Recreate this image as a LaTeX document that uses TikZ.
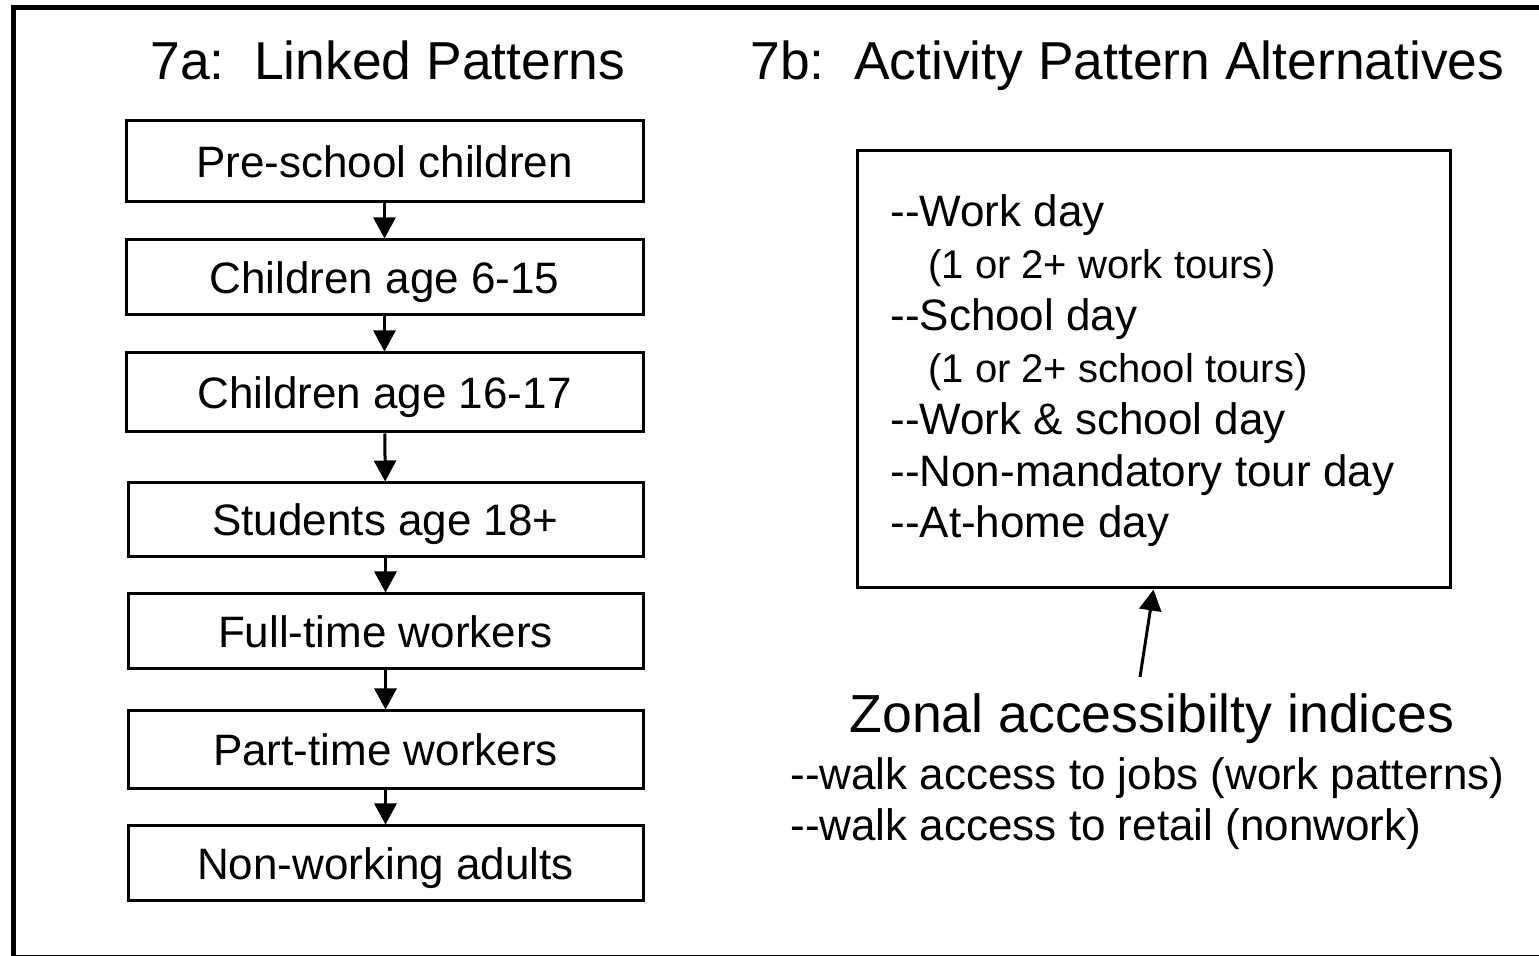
\documentclass[tikz,border=0pt]{standalone}
\usepackage{fontspec}
\setmainfont{Liberation Sans}
\usetikzlibrary{arrows.meta}
\begin{document}
\begin{tikzpicture}[x=0.5pt,y=-0.5pt,
  stagebox/.style={draw,line width=1.5pt,inner sep=0pt,font=\fontsize{22}{26}\selectfont,text height=15.75pt,text depth=0pt},
  flowarr/.style={line width=1.5pt,-{Triangle[length=10.5pt,width=11pt]}},
  title/.style={inner sep=0pt,anchor=base west,font=\fontsize{26.7}{30}\selectfont},
  item/.style={inner sep=0pt,anchor=base west,font=\fontsize{22}{26}\selectfont},
  subitem/.style={inner sep=0pt,anchor=base west,font=\fontsize{20}{24}\selectfont}]
\useasboundingbox (0,0) rectangle (1539,956);
\fill[white] (0,0) rectangle (1539,956);
\draw[line width=2.5pt] (13,7.5) rectangle (1545,958);
% titles
\node[title] (ta) at (150,80) {7a:\ \ Linked Patterns};
\node[title] (tb) at (750,80) {7b:\ \ Activity Pattern Alternatives};
% left boxes
\node[stagebox,minimum width=258.5pt,minimum height=40.5pt] (b1) at (384.5,161.5) {Pre-school children};
\node[stagebox,minimum width=258.5pt,minimum height=37.5pt] (b2) at (384.5,277.5) {Children age 6-15};
\node[stagebox,minimum width=258.5pt,minimum height=39.5pt] (b3) at (384.5,392.5) {Children age 16-17};
\node[stagebox,minimum width=257.5pt,minimum height=37pt] (b4) at (385.5,520) {Students age 18+};
\node[stagebox,minimum width=257.5pt,minimum height=37.5pt] (b5) at (385.5,631.5) {Full-time workers};
\node[stagebox,minimum width=257.5pt,minimum height=39pt] (b6) at (385.5,750) {Part-time workers};
\node[stagebox,minimum width=257.5pt,minimum height=37.5pt] (b7) at (385.5,863.5) {Non-working adults};
\draw[flowarr] (b1) -- (b2);
\draw[flowarr] (b2) -- (b3);
\draw[flowarr] (b3) -- (b4);
\draw[flowarr] (b4) -- (b5);
\draw[flowarr] (b5) -- (b6);
\draw[flowarr] (b6) -- (b7);
% right box
\node[draw,line width=1.5pt,minimum width=296.5pt,minimum height=218.5pt,inner sep=0pt] (rb) at (1153.5,369.5) {};
\node[item] (l1) at (890,227) {-{}-Work day};
\node[subitem] (l2) at (928,279) {(1 or 2+ work tours)};
\node[item] (l3) at (890,331) {-{}-School day};
\node[subitem] (l4) at (928,383) {(1 or 2+ school tours)};
\node[item] (l5) at (890,435) {-{}-Work \& school day};
\node[item] (l6) at (890,487) {-{}-Non-mandatory tour day};
\node[item] (l7) at (890,538) {-{}-At-home day};
% accessibility
\coordinate (zt) at (1140,677);
\draw[flowarr] (zt) -- (rb.south);
\node[inner sep=0pt,anchor=base,font=\fontsize{26.8}{30}\selectfont] (z) at (1152,733) {Zonal accessibilty indices};
\node[item] (w1) at (790,790) {-{}-walk access to jobs (work patterns)};
\node[item] (w2) at (790,841) {-{}-walk access to retail (nonwork)};
\end{tikzpicture}
\end{document}
